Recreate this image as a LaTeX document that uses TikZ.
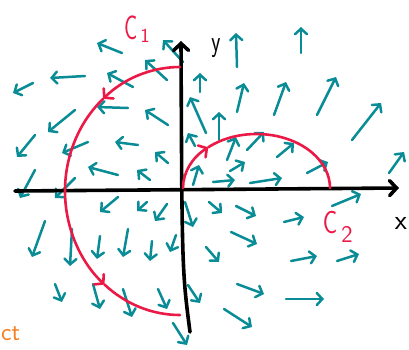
\documentclass[tikz,border=0pt]{standalone}
\usetikzlibrary{arrows.meta}
\definecolor{fieldc}{RGB}{10,140,150}
\definecolor{curvec}{RGB}{235,25,70}
\definecolor{orangec}{RGB}{245,125,30}
\begin{document}
\begin{tikzpicture}[x=1pt,y=-1pt,
  fieldarrow/.style={draw=fieldc, line width=2.5pt, line cap=round,
    -{Straight Barb[length=5.5pt,width=12pt,line cap=round]}},
  axisline/.style={draw=black, line width=3.6pt, line cap=round,
    -{Straight Barb[length=7pt,width=15pt,line cap=round]}},
  curveline/.style={draw=curvec, line width=2.6pt, line cap=round},
  curvetip/.style={curveline, -{Straight Barb[length=6pt,width=14pt,line cap=round]}},
  lab/.style={font=\sffamily, inner sep=0pt}]
\useasboundingbox (0,0) rectangle (409,349);

% vector field
\foreach \ax/\ay/\bx/\by in {
  122/53/97/43, 183/62/163/40, 85/76/50/78, 33/83/13/93, 133/87/107/73,
  167/80/145/60, 128/108/97/107, 168/125/145/110, 75/110/48/132,
  138/145/115/142, 35/135/17/157, 88/142/62/153, 168/163/155/152,
  118/175/88/167, 150/180/137/170, 35/170/20/198, 75/178/55/198,
  237/67/236/33, 301/53/301/27, 237/112/244/83, 274/115/286/82,
  317/115/336/77, 352/140/381/103, 389/173/404/152, 219/140/219/112,
  200/92/200/73, 206/133/190/97, 195/146/188/133, 193/185/199/165,
  227/160/236/137, 247/150/264/132, 277/157/294/143, 307/173/328/162,
  213/182/235/180, 250/183/282/178, 230/171/245/162,
  332/206/361/194, 209/202/222/213, 236/206/256/216, 284/222/304/217,
  231/232/257/244, 206/247/219/262, 291/261/317/256, 337/261/359/254,
  237/284/264/294, 286/299/324/299, 224/309/252/327, 185/202/193/227,
  188/285/200/303, 173/323/187/345,
  118/197/100/212, 147/202/137/211, 167/204/155/221, 45/221/32/257,
  72/229/70/266, 100/236/97/259, 128/229/123/257, 152/241/150/261,
  176/235/170/252, 55/284/62/302, 93/284/100/309, 123/289/132/317,
  158/289/167/309}
  \draw[fieldarrow] (\ax,\ay) -- (\bx,\by);

% axes
\coordinate (xs) at (15,191);
\coordinate (xe) at (399,188);
\coordinate (ys) at (190,332);
\coordinate (ym) at (182,270);
\coordinate (ye) at (181,41);
\draw[axisline] (xs) -- (xe);
\draw[axisline] (ys) .. controls (ym) .. (ye);

% curve C1 (left half ellipse, counterclockwise)
\coordinate (c1top) at (180,67);
\draw[curvetip] (c1top) arc[start angle=-90, end angle=-132, x radius=115, y radius=124] coordinate (c1a);
\draw[curvetip] (c1a) arc[start angle=-132, end angle=-229, x radius=115, y radius=124] coordinate (c1b);
\draw[curveline] (c1b) arc[start angle=-229, end angle=-270, x radius=115, y radius=124];

% curve C2 (upper half ellipse from origin)
\coordinate (c2start) at (183,188);
\draw[curvetip] (c2start) arc[start angle=-180, end angle=-131, x radius=73.5, y radius=54] coordinate (c2a);
\draw[curveline] (c2a) arc[start angle=-131, end angle=0, x radius=73.5, y radius=54];

% labels
\node[lab, text=curvec, font=\sffamily\fontsize{34}{34}\selectfont] (c1) at (131,28) {\scalebox{0.65}[1]{C}};
\node[lab, text=curvec, font=\sffamily\fontsize{20}{20}\selectfont] (c1s) at (145,36) {1};
\node[lab, text=curvec, font=\sffamily\fontsize{32}{32}\selectfont] (c2) at (330,222) {\scalebox{0.75}[1]{C}};
\node[lab, text=curvec, font=\sffamily\fontsize{24}{24}\selectfont] (c2s) at (347,234) {2};
\node[lab, font=\sffamily\fontsize{30}{30}\selectfont] (ylab) at (216,48) {\scalebox{0.7}[1]{y}};
\node[lab, font=\sffamily\fontsize{28}{28}\selectfont] (xlab) at (401,223) {x};
\node[lab, text=orangec, font=\sffamily\fontsize{25}{25}\selectfont, anchor=base west] (ct) at (1,340) {ct};
\end{tikzpicture}
\end{document}
